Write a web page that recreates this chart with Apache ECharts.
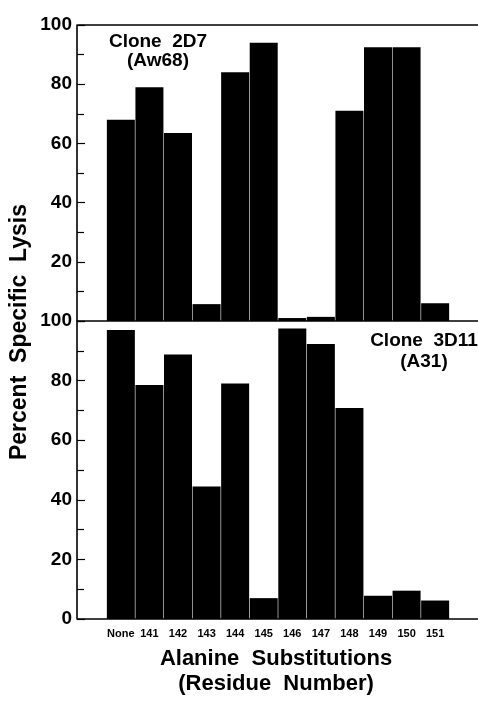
<!DOCTYPE html>
<html>
<head>
<meta charset="utf-8">
<script src="https://cdn.jsdelivr.net/npm/echarts@6/dist/echarts.min.js"></script>
<style>
  html, body { margin: 0; padding: 0; background: #fff; }
  #chart { width: 478px; height: 707px; }
</style>
</head>
<body>
<div id="chart"></div>
<script>
// residues substituted with alanine
const residues = ["None", "141", "142", "143", "144", "145", "146", "147", "148", "149", "150", "151"];
// percent specific lysis, clone 2D7 (Aw68)
const clone2D7 = [68, 79, 63.5, 5.7, 84, 94, 1, 1.4, 71, 92.5, 92.5, 6];
// percent specific lysis, clone 3D11 (A31)
const clone3D11 = [97, 78.5, 88.8, 44.5, 79, 7, 97.5, 92.3, 70.8, 7.8, 9.5, 6.2];
const yTicks = [0, 20, 40, 60, 80, 100];

// one empty slot on each side, like the printed figure
const slots = ["", ...residues, ""];
const pad = (arr) => ["-", ...arr, "-"];

const font = "'Liberation Sans', Arial, Helvetica, sans-serif";
const ink = "#000";
const gridLeft = 78;
const gridWidth = 415;

const chart = echarts.init(document.getElementById("chart"));

function yAxisFor(gridIndex, hideZero) {
  return {
    type: "value",
    gridIndex,
    offset: 1,
    min: yTicks[0],
    max: yTicks[yTicks.length - 1],
    interval: yTicks[1] - yTicks[0],
    axisLine: { show: true, lineStyle: { color: ink, width: 1.6 } },
    axisTick: { show: true, inside: true, length: 8, lineStyle: { color: ink, width: 1.2 } },
    minorTick: { show: true, splitNumber: 2, length: 7, lineStyle: { color: ink, width: 1.2 } },
    splitLine: { show: false },
    axisLabel: {
      color: ink,
      fontFamily: font,
      fontWeight: "bold",
      fontSize: 19,
      margin: 5,
      formatter: (v) => (hideZero && v === 0 ? "" : String(v)),
    },
  };
}

function xAxisFor(gridIndex, position, showLabels) {
  return {
    type: "category",
    gridIndex,
    position,
    data: slots,
    axisLine: { show: true, lineStyle: { color: ink, width: 1.5 } },
    axisTick: { show: false },
    splitLine: { show: false },
    axisLabel: {
      show: showLabels,
      interval: 0,
      color: ink,
      fontFamily: "'Liberation Sans Narrow', 'Arial Narrow', " + font,
      fontWeight: "bold",
      fontSize: 11,
      margin: 9,
    },
  };
}

const option = {
  animation: false,
  backgroundColor: "#fff",
  grid: [
    { left: gridLeft, top: 25, width: gridWidth, height: 296 },
    { left: gridLeft, top: 321, width: gridWidth, height: 298 },
  ],
  xAxis: [
    xAxisFor(0, "bottom", false),
    xAxisFor(1, "bottom", true),
    xAxisFor(0, "top", false),
  ],
  yAxis: [yAxisFor(0, true), yAxisFor(1, false)],
  series: [
    {
      type: "bar",
      xAxisIndex: 0,
      yAxisIndex: 0,
      data: pad(clone2D7),
      barWidth: 28,
      itemStyle: { color: ink },
    },
    {
      type: "bar",
      xAxisIndex: 1,
      yAxisIndex: 1,
      data: pad(clone3D11),
      barWidth: 28,
      itemStyle: { color: ink },
    },
  ],
  graphic: [
    {
      type: "text",
      x: 158,
      y: 51,
      style: {
        text: "Clone  2D7\n(Aw68)",
        align: "center",
        verticalAlign: "middle",
        fill: ink,
        font: "bold 19px " + font,
        lineHeight: 19,
      },
    },
    {
      type: "text",
      x: 424,
      y: 351,
      style: {
        text: "Clone  3D11\n(A31)",
        align: "center",
        verticalAlign: "middle",
        fill: ink,
        font: "bold 19px " + font,
        lineHeight: 21,
      },
    },
    {
      type: "text",
      x: 20,
      y: 332,
      rotation: Math.PI / 2,
      style: {
        text: "Percent  Specific  Lysis",
        align: "center",
        verticalAlign: "middle",
        fill: ink,
        font: "bold 23px " + font,
      },
    },
    {
      type: "text",
      x: 276,
      y: 671,
      style: {
        text: "Alanine  Substitutions\n(Residue  Number)",
        align: "center",
        verticalAlign: "middle",
        fill: ink,
        font: "bold 22px " + font,
        lineHeight: 25,
      },
    },
  ],
};

chart.setOption(option);
</script>
</body>
</html>
